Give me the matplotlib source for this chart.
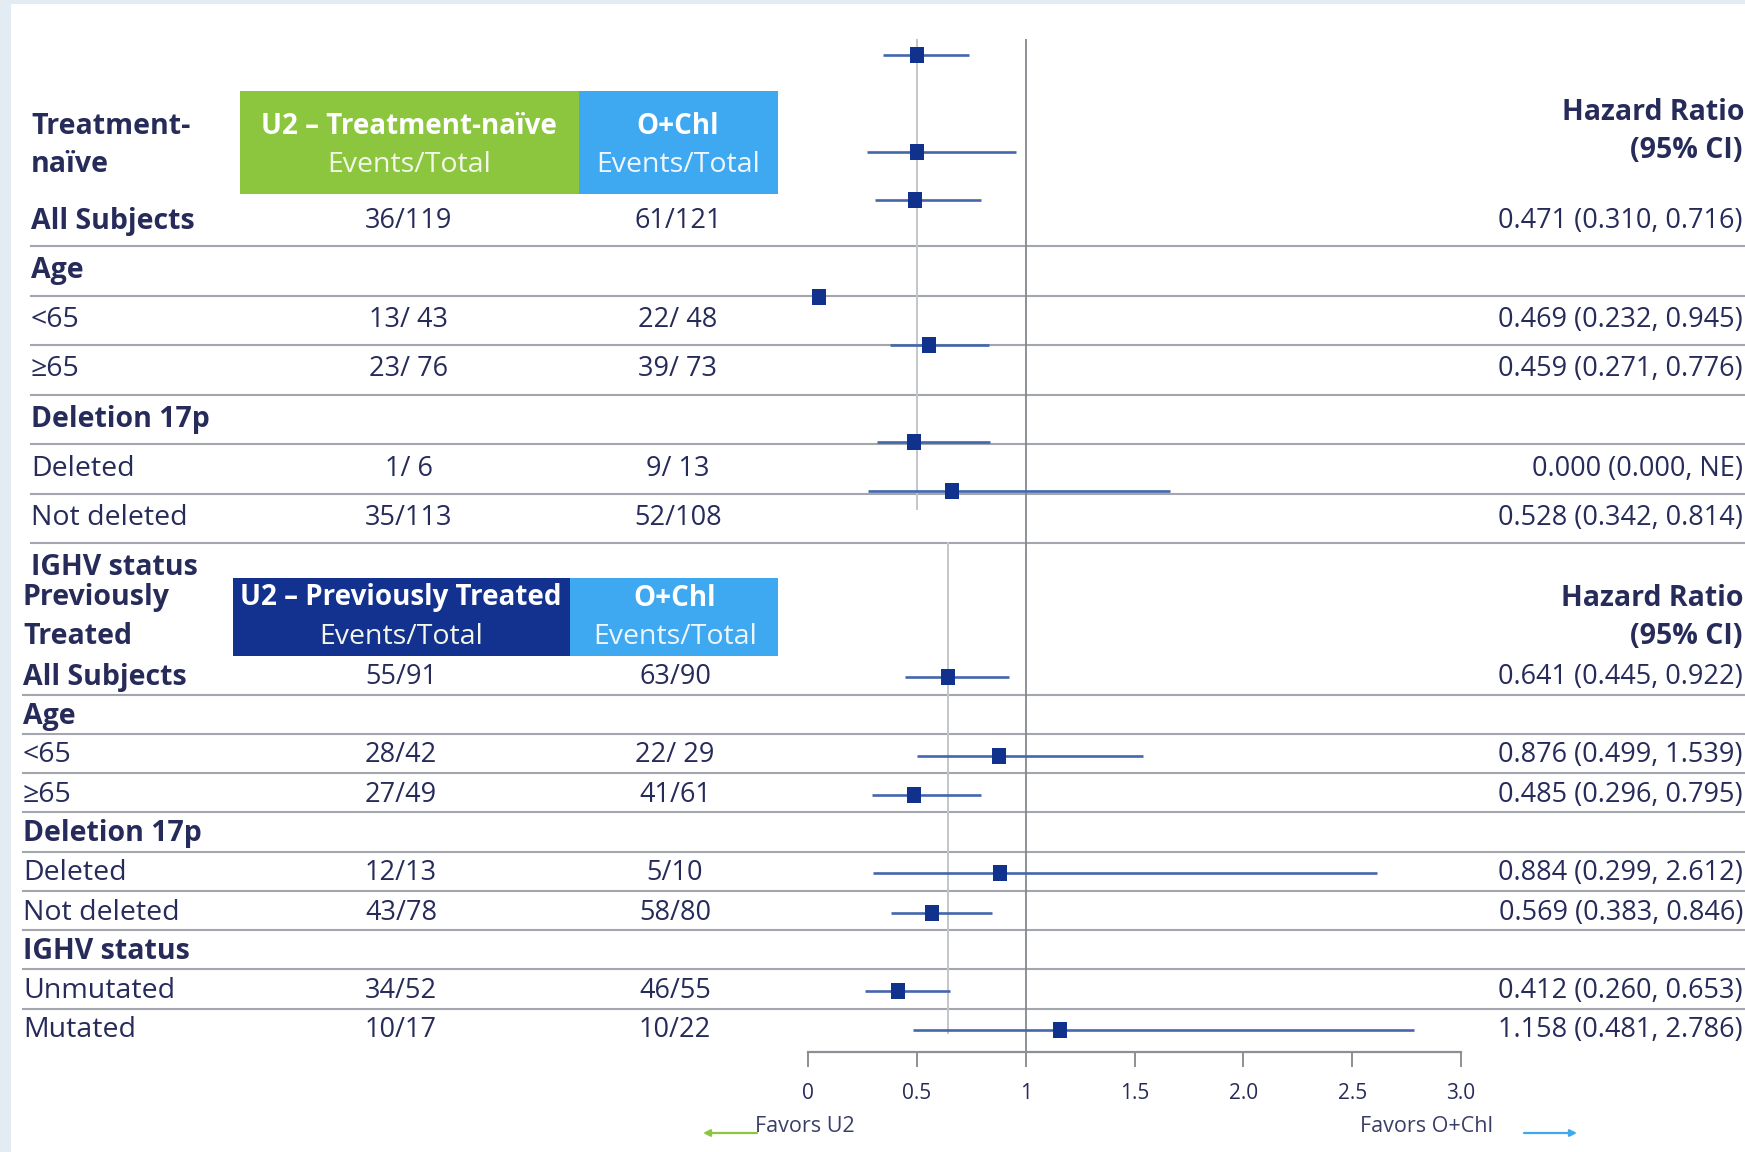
import numpy as np
import matplotlib
matplotlib.use("Agg")
import matplotlib.pyplot as plt
from matplotlib.patches import Rectangle

plt.rcParams['font.family'] = ['Open Sans', 'DejaVu Sans']

# ---------------- data ----------------
# Treatment-naive table
naive_labels = ["All Subjects", "Age", "<65", "\u226565", "Deletion 17p",
                "Deleted", "Not deleted", "IGHV status"]
naive_is_header = [True, True, False, False, True, False, False, True]
naive_u2 = ["36/119", "", "13/ 43", "23/ 76", "", "1/ 6", "35/113", ""]
naive_och = ["61/121", "", "22/ 48", "39/ 73", "", "9/ 13", "52/108", ""]
naive_hr_row = [0, 2, 3, 5, 6]
naive_hr = [0.471, 0.469, 0.459, 0.000, 0.528]
naive_lo = [0.310, 0.232, 0.271, 0.000, 0.342]
naive_hi = [0.716, 0.945, 0.776, None, 0.814]

# Treatment-naive forest (subgroups incl. IGHV unmutated / mutated)
naive_forest_row = [0, 2, 3, 5, 6, 8, 9]
naive_forest_hr = [0.471, 0.469, 0.459, 0.000, 0.528, 0.456, 0.637]
naive_forest_lo = [0.310, 0.232, 0.271, None, 0.342, 0.279, 0.236]
naive_forest_hi = [0.716, 0.945, 0.776, None, 0.814, 0.819, 1.678]
naive_overall_hr = 0.471

# Previously treated table + forest
prev_labels = ["All Subjects", "Age", "<65", "\u226565", "Deletion 17p",
               "Deleted", "Not deleted", "IGHV status", "Unmutated", "Mutated"]
prev_is_header = [True, True, False, False, True, False, False, True, False, False]
prev_u2 = ["55/91", "", "28/42", "27/49", "", "12/13", "43/78", "", "34/52", "10/17"]
prev_och = ["63/90", "", "22/ 29", "41/61", "", "5/10", "58/80", "", "46/55", "10/22"]
prev_row = [0, 2, 3, 5, 6, 8, 9]
prev_hr = [0.641, 0.876, 0.485, 0.884, 0.569, 0.412, 1.158]
prev_lo = [0.445, 0.499, 0.296, 0.299, 0.383, 0.260, 0.481]
prev_hi = [0.922, 1.539, 0.795, 2.612, 0.846, 0.653, 2.786]
prev_overall_hr = 0.641

x_ticks = [0, 0.5, 1, 1.5, 2.0, 2.5, 3.0]
x_tick_labels = ["0", "0.5", "1", "1.5", "2.0", "2.5", "3.0"]


def hr_text(hr, lo, hi):
    def f(v):
        return "NE" if v is None else f"{v:.3f}"
    return f"{f(hr)} ({f(lo)}, {f(hi)})"


# ---------------- style ----------------
W, H = 1745, 1152
STRIP = '#e3ebf3'
TEXT = '#262b5a'
GREEN = '#8cc63f'
LBLUE = '#3ea8f0'
NAVY = '#13318f'
RULE = '#a3a7ad'
MARK = '#10328c'
CI = '#4466ad'
REF_LIGHT = '#c3c6cb'
REF_DARK = '#85888d'
FS_LAB = 20.5
FS_NUM = 19.5

fig = plt.figure(figsize=(W / 100, H / 100), dpi=100, facecolor=STRIP)


def rect(x0, y0, x1, y1):
    return [x0 / W, 1 - y1 / H, (x1 - x0) / W, (y1 - y0) / H]


bg = fig.add_axes([0, 0, 1, 1])
bg.set_xlim(0, W)
bg.set_ylim(H, 0)
bg.axis('off')
bg.add_patch(Rectangle((11, 4), W - 11, H - 4, facecolor='white', edgecolor='none'))


def txt(x, y, s, ha='left', bold=False, color=TEXT, size=FS_LAB):
    bg.text(x, y, s, ha=ha, va='center', color=color, fontsize=size,
            fontweight='bold' if bold else 'normal')


def header_block(x_lab, y1, y2, lab1, lab2, box_top, box_bot, box_col,
                 title, x_u2, x_och, x_hr_left, hr_y1, hr_y2):
    txt(x_lab, y1, lab1, bold=True)
    txt(x_lab, y2, lab2, bold=True)
    bg.add_patch(Rectangle((box_l, box_top), box_m - box_l, box_bot - box_top,
                           facecolor=box_col, edgecolor='none'))
    bg.add_patch(Rectangle((box_m, box_top), box_r - box_m, box_bot - box_top,
                           facecolor=LBLUE, edgecolor='none'))
    txt(x_u2, y1, title, ha='center', bold=True, color='white', size=20)
    txt(x_u2, y2, "Events/Total", ha='center', color='#f2f7e8')
    txt(x_och, y1, "O+Chl", ha='center', bold=True, color='white', size=20)
    txt(x_och, y2, "Events/Total", ha='center', color='#eef6fd')
    txt(x_hr_left, hr_y1, "Hazard Ratio", bold=True)
    txt(1743, hr_y2, "(95% CI)", ha='right', bold=True)


box_l, box_m, box_r = 240, 579, 778

# ---------- Treatment-naive section ----------
header_block(31, 126, 165, "Treatment-", "na\u00efve", 91, 194, GREEN,
             "U2 \u2013 Treatment-na\u00efve", 409, 678, 1562, 113, 151)

n_y0, n_pitch = 221, 49.5
for i, lab in enumerate(naive_labels):
    y = n_y0 + n_pitch * i
    txt(31, y, lab, bold=naive_is_header[i])
    if naive_u2[i]:
        txt(409, y, naive_u2[i], ha='center', size=FS_NUM)
        txt(678, y, naive_och[i], ha='center', size=FS_NUM)
    if i < len(naive_labels) - 1:
        bg.plot([31, W], [y + 25, y + 25], color=RULE, lw=1.5)
for r, hr, lo, hi in zip(naive_hr_row, naive_hr, naive_lo, naive_hi):
    txt(1743, n_y0 + n_pitch * r, hr_text(hr, lo, hi), ha='right', size=FS_NUM)

# ---------- Previously treated section ----------
box_l, box_m, box_r = 233, 570, 778
header_block(23, 598, 637, "Previously", "Treated", 578, 656, NAVY,
             "U2 \u2013 Previously Treated", 401, 675, 1561, 598, 637)

p_y0, p_pitch = 677, 39.25
for i, lab in enumerate(prev_labels):
    y = p_y0 + p_pitch * i
    txt(23, y, lab, bold=prev_is_header[i])
    if prev_u2[i]:
        txt(401, y, prev_u2[i], ha='center', size=FS_NUM)
        txt(675, y, prev_och[i], ha='center', size=FS_NUM)
    if i < len(prev_labels) - 1:
        bg.plot([23, W], [y + 17.5, y + 17.5], color=RULE, lw=1.5)
for r, hr, lo, hi in zip(prev_row, prev_hr, prev_lo, prev_hi):
    txt(1743, p_y0 + p_pitch * r, hr_text(hr, lo, hi), ha='right', size=FS_NUM)

# ---------- forest plots ----------
box_marker = [(-0.43, -0.5), (0.43, -0.5), (0.43, 0.5), (-0.43, 0.5), (-0.43, -0.5)]


def draw_forest(ax, rows, hr, lo, hi):
    for r, h, a, b in zip(rows, hr, lo, hi):
        if a is not None and b is not None:
            ax.plot([a, b], [r, r], color=CI, lw=1.9, solid_capstyle='butt',
                    zorder=3, clip_on=False)
    ax.plot(hr, rows, ls='none', marker=box_marker, markersize=11,
            color=MARK, markeredgewidth=0, zorder=4, clip_on=False)


# previously treated: shares the x-axis drawn at the bottom
top_px, axis_px = 39, 1052
axp = fig.add_axes(rect(808, top_px, 1461, axis_px))
axp.patch.set_alpha(0)
axp.set_xlim(0, 3)
axp.set_ylim((axis_px - p_y0) / p_pitch, (top_px - p_y0) / p_pitch)
for s in ['top', 'right', 'left']:
    axp.spines[s].set_visible(False)
axp.spines['bottom'].set_color('#8c8f94')
axp.spines['bottom'].set_linewidth(1.6)
axp.set_yticks([])
axp.set_xticks(x_ticks)
axp.set_xticklabels(x_tick_labels)
axp.tick_params(axis='x', length=11, width=1.4, color='#8c8f94', pad=11,
                labelsize=15, labelcolor=TEXT)
axp.axvline(1, color=REF_DARK, lw=1.3, zorder=2)
axp.plot([prev_overall_hr] * 2, [(543 - p_y0) / p_pitch, (1033 - p_y0) / p_pitch],
         color=REF_LIGHT, lw=1.4, zorder=2)
draw_forest(axp, prev_row, prev_hr, prev_lo, prev_hi)

# treatment-naive forest
f_y0, f_pitch = 54.7, 48.46
axn = fig.add_axes(rect(818.5, top_px, 1447, 520))
axn.patch.set_alpha(0)
axn.set_xlim(0, 3)
axn.set_ylim((520 - f_y0) / f_pitch, (top_px - f_y0) / f_pitch)
axn.axis('off')
axn.plot([naive_overall_hr] * 2, [(top_px - f_y0) / f_pitch, (509 - f_y0) / f_pitch],
         color=REF_LIGHT, lw=1.4, zorder=2)
draw_forest(axn, naive_forest_row, naive_forest_hr, naive_forest_lo, naive_forest_hi)

# favours annotations
txt(755, 1127, "Favors U2", size=15.5, color='#3a3f66')
bg.annotate("", xy=(703, 1133), xytext=(757, 1133),
            arrowprops=dict(arrowstyle='-|>', color=GREEN, lw=1.6,
                            mutation_scale=10, shrinkA=0, shrinkB=0))
txt(1360, 1127, "Favors O+Chl", size=15.5, color='#3a3f66')
bg.annotate("", xy=(1577, 1133), xytext=(1524, 1133),
            arrowprops=dict(arrowstyle='-|>', color=LBLUE, lw=1.6,
                            mutation_scale=10, shrinkA=0, shrinkB=0))

fig.savefig("out.png", dpi=100, facecolor=fig.get_facecolor())
